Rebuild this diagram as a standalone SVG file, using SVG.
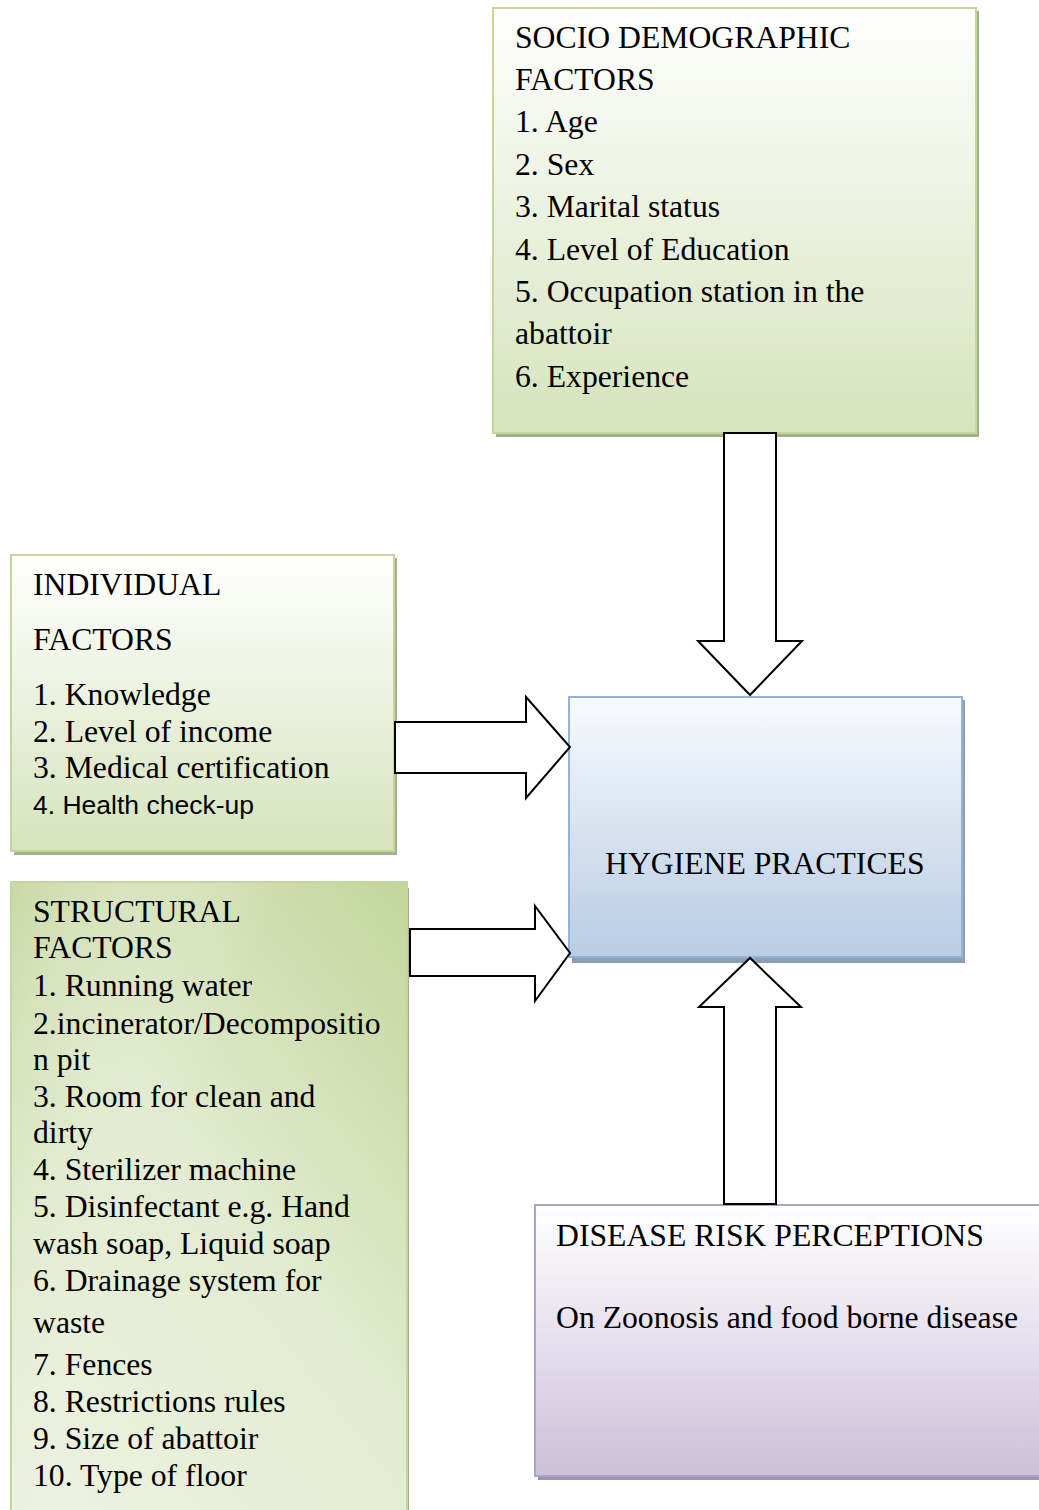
<svg xmlns="http://www.w3.org/2000/svg" width="1039" height="1510" viewBox="0 0 1039 1510">
<style>
  .t { font-family: "Liberation Serif", "Times New Roman", serif; font-size: 31.7px; fill: #000; }
  .s { font-family: "Liberation Sans", Arial, sans-serif; font-size: 26.5px; fill: #000; }
  .arrow { fill: #fff; stroke: #000; stroke-width: 2; stroke-linejoin: miter; }
  .gshadow { fill: #a4b08a; }
  .bshadow { fill: #8d9db5; }
  .pshadow { fill: #9d93aa; }
</style>
<defs>
  <linearGradient id="gGreen" x1="0" y1="0" x2="0" y2="1">
    <stop offset="0" stop-color="#ffffff"/>
    <stop offset="1" stop-color="#d6e3bc"/>
  </linearGradient>
  <linearGradient id="gGreenDiag" x1="1" y1="0" x2="0.2" y2="1">
    <stop offset="0" stop-color="#c3d69b"/>
    <stop offset="0.55" stop-color="#e3ecd2"/>
    <stop offset="1" stop-color="#ebf1de"/>
  </linearGradient>
  <linearGradient id="gGreenDiag2" x1="0" y1="0" x2="1" y2="0.6">
    <stop offset="0" stop-color="#c6d8a1" stop-opacity="0.9"/>
    <stop offset="0.5" stop-color="#e9f0dc" stop-opacity="0"/>
    <stop offset="1" stop-color="#e9f0dc" stop-opacity="0"/>
  </linearGradient>
  <linearGradient id="gBlue" x1="0" y1="0" x2="0" y2="1">
    <stop offset="0" stop-color="#f8fafd"/>
    <stop offset="1" stop-color="#b8cce4"/>
  </linearGradient>
  <linearGradient id="gPurple" x1="0" y1="0" x2="0" y2="1">
    <stop offset="0" stop-color="#ffffff"/>
    <stop offset="1" stop-color="#ccc0da"/>
  </linearGradient>
</defs>

<g id="socio">
  <rect class="gshadow" x="496" y="11" width="483" height="426"/>
  <rect x="493" y="8" width="483" height="425" fill="url(#gGreen)" stroke="#c3d69b" stroke-width="2"/>
  <text class="t" x="515" y="48">SOCIO DEMOGRAPHIC</text>
  <text class="t" x="515" y="90">FACTORS</text>
  <text class="t" x="515" y="132">1. Age</text>
  <text class="t" x="515" y="175">2. Sex</text>
  <text class="t" x="515" y="217">3. Marital status</text>
  <text class="t" x="515" y="260">4. Level of Education</text>
  <text class="t" x="515" y="302">5. Occupation station in the</text>
  <text class="t" x="515" y="344">abattoir</text>
  <text class="t" x="515" y="387">6. Experience</text>
</g>

<g id="individual">
  <rect class="gshadow" x="14" y="558" width="383" height="297"/>
  <rect x="11" y="555" width="383" height="296" fill="url(#gGreen)" stroke="#c3d69b" stroke-width="2"/>
  <text class="t" x="33" y="595">INDIVIDUAL</text>
  <text class="t" x="33" y="650">FACTORS</text>
  <text class="t" x="33" y="705">1. Knowledge</text>
  <text class="t" x="33" y="742">2. Level of income</text>
  <text class="t" x="33" y="778">3. Medical certification</text>
  <text class="s" x="33" y="814">4. Health check-up</text>
</g>

<g id="structural">
  <rect class="gshadow" x="14" y="888" width="395" height="625"/>
  <rect x="11" y="882" width="396" height="630" fill="url(#gGreenDiag)" stroke="#c3d69b" stroke-width="2"/>
  <rect x="12" y="883" width="394" height="628" fill="url(#gGreenDiag2)"/>
  <text class="t" x="33" y="922">STRUCTURAL</text>
  <text class="t" x="33" y="958">FACTORS</text>
  <text class="t" x="33" y="996">1. Running water</text>
  <text class="t" x="33" y="1034">2.incinerator/Decompositio</text>
  <text class="t" x="33" y="1070">n pit</text>
  <text class="t" x="33" y="1107">3. Room for clean and</text>
  <text class="t" x="33" y="1143">dirty</text>
  <text class="t" x="33" y="1180">4. Sterilizer machine</text>
  <text class="t" x="33" y="1217">5. Disinfectant e.g. Hand</text>
  <text class="t" x="33" y="1254">wash soap, Liquid soap</text>
  <text class="t" x="33" y="1291">6. Drainage system for</text>
  <text class="t" x="33" y="1333">waste</text>
  <text class="t" x="33" y="1375">7. Fences</text>
  <text class="t" x="33" y="1412">8. Restrictions rules</text>
  <text class="t" x="33" y="1449">9. Size of abattoir</text>
  <text class="t" x="33" y="1486">10. Type of floor</text>
</g>

<g id="hygiene">
  <rect class="bshadow" x="572" y="700" width="393" height="263"/>
  <rect x="569" y="697" width="393" height="260" fill="url(#gBlue)" stroke="#95b3d7" stroke-width="2"/>
  <text class="t" x="605" y="874">HYGIENE PRACTICES</text>
</g>

<g id="disease">
  <rect class="pshadow" x="538" y="1208" width="505" height="272"/>
  <rect x="535" y="1205" width="510" height="271" fill="url(#gPurple)" stroke="#b2a1c7" stroke-width="2"/>
  <text class="t" x="556" y="1246">DISEASE RISK PERCEPTIONS</text>
  <text class="t" x="556" y="1328">On Zoonosis and food borne disease</text>
</g>

<g id="connectors">
  <polygon class="arrow" points="724,433 776,433 776,641 802,641 750,695 698,641 724,641"/>
  <polygon class="arrow" points="395,722 526,722 526,697 570,747 526,798 526,773 395,773"/>
  <polygon class="arrow" points="410,929 535,929 535,906 570,953 535,1001 535,976 410,976"/>
  <polygon class="arrow" points="724,1204 724,1007 699,1007 750,958 801,1007 776,1007 776,1204"/>
</g>
</svg>
